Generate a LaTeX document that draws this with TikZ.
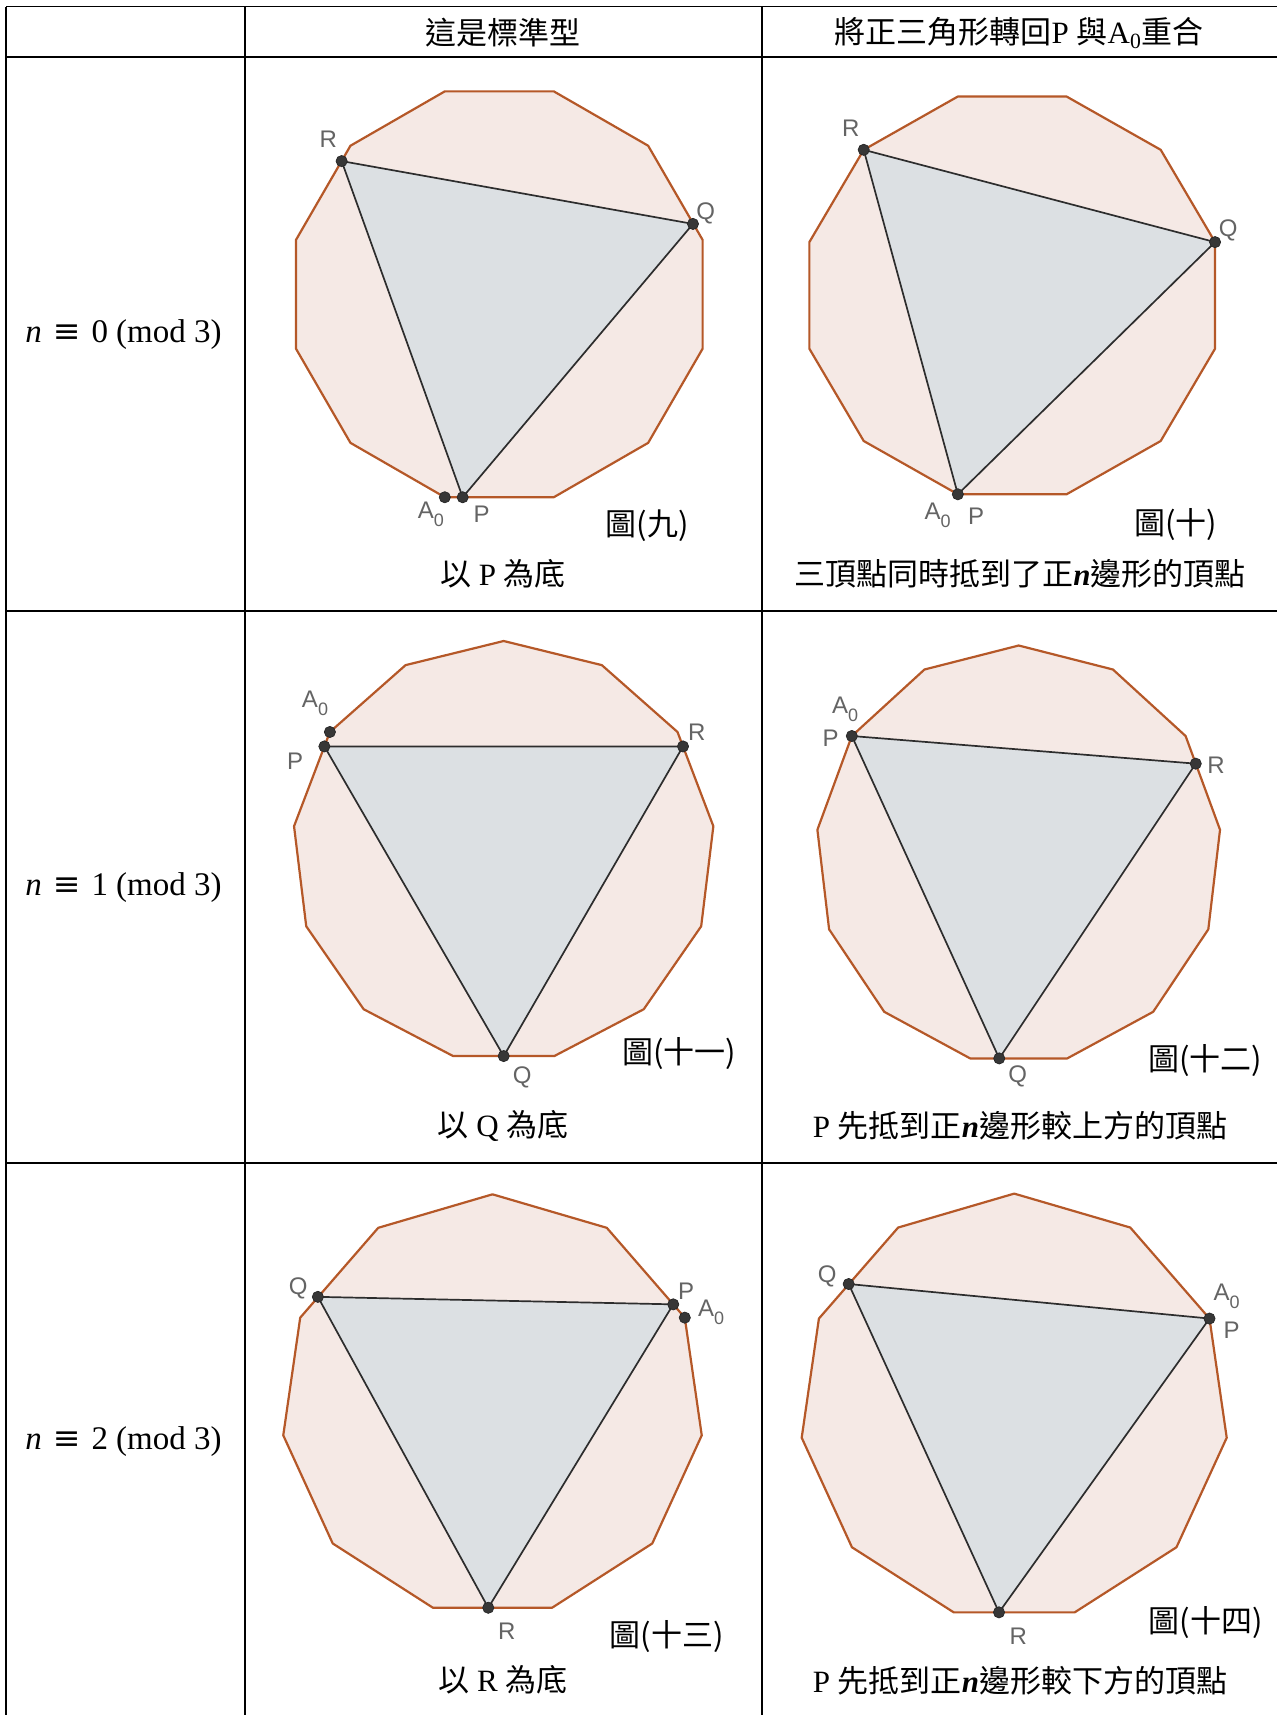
\documentclass[tikz,border=0pt]{standalone}
\usepackage{fontspec}
\usepackage{tikz}
\setmainfont{Liberation Serif}
\newfontfamily\cjk{Noto Sans CJK TC}
\newfontfamily\ggbfont{Liberation Sans}
\newfontfamily\symfont{DejaVu Serif}
\definecolor{polyedge}{RGB}{181,88,40}
\definecolor{polyfill}{RGB}{245,233,229}
\definecolor{trifill}{RGB}{220,224,227}
\definecolor{triedge}{RGB}{45,45,45}
\definecolor{dotfill}{RGB}{55,55,55}
\definecolor{lblgray}{RGB}{100,100,100}
\newcommand{\zh}[1]{{\cjk #1}}
\newcommand{\subzero}{\raisebox{-0.32em}{\fontsize{18}{18}\selectfont 0}}
\newcommand{\congr}[1]{\textit{n}\,\,{\symfont ≡}\,\,#1 (mod 3)}

\begin{document}
\begin{tikzpicture}[
    x=1pt, y=-1pt,
    grid line/.style={line width=1.6pt, black},
    ngon/.style={fill=polyfill, draw=polyedge, line width=2.2pt, line join=round},
    tri/.style={fill=trifill, draw=triedge, line width=1.7pt, line join=round},
    dot/.style={fill=dotfill, draw=black!85, line width=0.7pt},
    lbl/.style={font={\ggbfont\fontsize{24}{24}\selectfont}, text=lblgray, inner sep=0pt},
    fig/.style={font={\cjk\fontsize{31}{31}\selectfont}, inner sep=0pt},
    cell/.style={font={\fontsize{31}{37}\selectfont}, inner sep=0pt},
    rowlbl/.style={font={\fontsize{33}{37}\selectfont}, inner sep=0pt},
]
    \useasboundingbox (0,0) rectangle (1277,1715);

    % Table rules
    \foreach \y in {6.7,57,611,1163}
        \draw[grid line] (6,\y) -- (1277,\y);
    \foreach \x in {6,245,762}
        \draw[grid line] (\x,6.7) -- (\x,1715);

    % Header and row labels
    \node[cell] (head1) at (503,33) {\zh{這是標準型}};
    \node[cell] (head2) at (1019,33) {\zh{將正三角形轉回}P \zh{與}A\textsubscript{0}\zh{重合}};
    \node[rowlbl] (row0) at (123.5,334.5) {\congr{0}};
    \node[rowlbl] (row1) at (123.5,888) {\congr{1}};
    \node[rowlbl] (row2) at (123.5,1442) {\congr{2}};

    % Fig 9: n = 12, P as base
    \begin{scope}[shift={(499.3,294.3)}, x=210.5pt, y=210.1pt]
        \filldraw[ngon] (15:1) \foreach \k in {1,...,11} { -- ({15+30*\k}:1) } -- cycle;
        \coordinate (A9) at (255:1);
        \coordinate (P9) at (-0.174,-0.966);
        \coordinate (Q9) at (0.920,0.335);
        \coordinate (R9) at (-0.749,0.634);
        \filldraw[tri] (P9) -- (Q9) -- (R9) -- cycle;
        \foreach \p in {A9,P9,Q9,R9}
            \filldraw[dot] (\p) circle[radius=5.6pt];
    \end{scope}
    \node[lbl] (lR9) at (328.3,138.9) {R};
    \node[lbl] (lQ9) at (705.7,212.9) {Q};
    \node[lbl] (lA9) at (430.8,514) {A\subzero};
    \node[lbl] (lP9) at (481.7,514.3) {P};
    \node[fig] (fig9) at (647.3,525.3) {圖(九)};
    \node[cell] (cap9) at (503,574) {\zh{以} P \zh{為底}};

    % Fig 10: n = 12, P on A0
    \begin{scope}[shift={(1012.2,295.4)}, x=210pt, y=205.9pt]
        \filldraw[ngon] (15:1) \foreach \k in {1,...,11} { -- ({15+30*\k}:1) } -- cycle;
        \coordinate (P10) at (255:1);
        \coordinate (Q10) at (15:1);
        \coordinate (R10) at (135:1);
        \filldraw[tri] (P10) -- (Q10) -- (R10) -- cycle;
        \foreach \p in {P10,Q10,R10}
            \filldraw[dot] (\p) circle[radius=5.6pt];
    \end{scope}
    \node[lbl] (lR10) at (850.7,127.9) {R};
    \node[lbl] (lQ10) at (1228.3,230.1) {Q};
    \node[lbl] (lA10) at (937.5,515) {A\subzero};
    \node[lbl] (lP10) at (976,516) {P};
    \node[fig] (fig10) at (1175.7,524.6) {圖(十)};
    \node[cell] (cap10) at (1020,574) {\zh{三頂點同時抵到了正}\textbf{\textit{n}}\zh{邊形的頂點}};

    % Fig 11: n = 13, Q as base
    \begin{scope}[shift={(503.7,851.6)}, x=211.2pt, y=210.6pt]
        \filldraw[ngon] (90:1) \foreach \k in {1,...,12} { -- ({90+360*\k/13}:1) } -- cycle;
        \coordinate (A11) at ({90+720/13}:1);
        \coordinate (P11) at (-0.849,0.4995);
        \coordinate (Q11) at (0,-0.9709);
        \coordinate (R11) at (0.849,0.4995);
        \filldraw[tri] (P11) -- (Q11) -- (R11) -- cycle;
        \foreach \p in {A11,P11,Q11,R11}
            \filldraw[dot] (\p) circle[radius=5.6pt];
    \end{scope}
    \node[lbl] (lA11) at (315,703) {A\subzero};
    \node[lbl] (lP11) at (295,761.5) {P};
    \node[lbl] (lR11) at (696.7,732.3) {R};
    \node[lbl] (lQ11) at (522.3,1077.7) {Q};
    \node[fig] (fig11) at (679,1053.3) {圖(十一)};
    \node[cell] (cap11) at (503,1126) {\zh{以} Q \zh{為底}};

    % Fig 12: n = 13, P on A0
    \begin{scope}[shift={(1018.7,855)}, x=202.8pt, y=209.5pt]
        \filldraw[ngon] (90:1) \foreach \k in {1,...,12} { -- ({90+360*\k/13}:1) } -- cycle;
        \coordinate (P12) at ({90+720/13}:1);
        \coordinate (Q12) at (-0.096,-0.9709);
        \coordinate (R12) at (0.873,0.436);
        \filldraw[tri] (P12) -- (Q12) -- (R12) -- cycle;
        \foreach \p in {P12,Q12,R12}
            \filldraw[dot] (\p) circle[radius=5.6pt];
    \end{scope}
    \node[lbl] (lA12) at (845,709) {A\subzero};
    \node[lbl] (lP12) at (830.7,738.1) {P};
    \node[lbl] (lR12) at (1216,765.7) {R};
    \node[lbl] (lQ12) at (1017.7,1076.7) {Q};
    \node[fig] (fig12) at (1205,1060.1) {圖(十二)};
    \node[cell] (cap12) at (1020,1126) {P \zh{先抵到正}\textbf{\textit{n}}\zh{邊形較上方的頂點}};

    % Fig 13: n = 11, R as base
    \begin{scope}[shift={(492.5,1405.3)}, x=211.4pt, y=211pt]
        \filldraw[ngon] (90:1) \foreach \k in {1,...,10} { -- ({90+360*\k/11}:1) } -- cycle;
        \coordinate (A13) at ({90-720/11}:1);
        \coordinate (P13) at (0.855,0.4785);
        \coordinate (Q13) at (-0.826,0.514);
        \coordinate (R13) at (-0.02,-0.9595);
        \filldraw[tri] (P13) -- (R13) -- (Q13) -- cycle;
        \foreach \p in {A13,P13,Q13,R13}
            \filldraw[dot] (\p) circle[radius=5.6pt];
    \end{scope}
    \node[lbl] (lQ13) at (298.3,1288.1) {Q};
    \node[lbl] (lP13) at (686,1291.7) {P};
    \node[lbl] (lA13) at (711,1312) {A\subzero};
    \node[lbl] (lR13) at (506.7,1630.8) {R};
    \node[fig] (fig13) at (666.7,1636.1) {圖(十三)};
    \node[cell] (cap13) at (503,1680) {\zh{以} R \zh{為底}};

    % Fig 14: n = 11, P on A0
    \begin{scope}[shift={(1014.2,1407.3)}, x=214.7pt, y=213.7pt]
        \filldraw[ngon] (90:1) \foreach \k in {1,...,10} { -- ({90+360*\k/11}:1) } -- cycle;
        \coordinate (P14) at ({90-720/11}:1);
        \coordinate (Q14) at (-0.771,0.577);
        \coordinate (R14) at (-0.0708,-0.9595);
        \filldraw[tri] (P14) -- (R14) -- (Q14) -- cycle;
        \foreach \p in {P14,Q14,R14}
            \filldraw[dot] (\p) circle[radius=5.6pt];
    \end{scope}
    \node[lbl] (lQ14) at (827.3,1276.8) {Q};
    \node[lbl] (lA14) at (1226.5,1296) {A\subzero};
    \node[lbl] (lP14) at (1231.7,1330.6) {P};
    \node[lbl] (lR14) at (1018.3,1636.1) {R};
    \node[fig] (fig14) at (1205.7,1622.7) {圖(十四)};
    \node[cell] (cap14) at (1020,1681) {P \zh{先抵到正}\textbf{\textit{n}}\zh{邊形較下方的頂點}};
\end{tikzpicture}
\end{document}
